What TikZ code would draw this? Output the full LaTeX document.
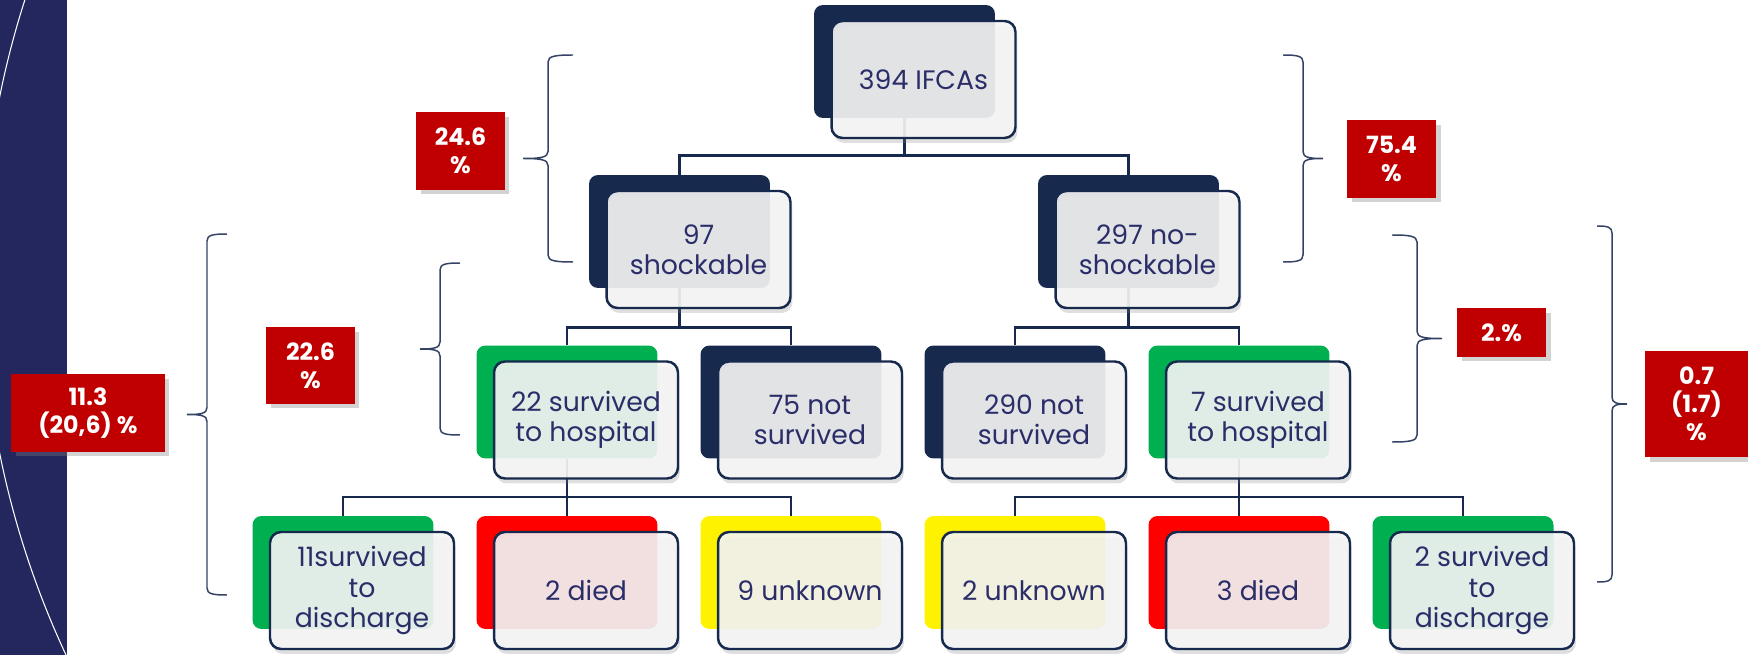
\documentclass[tikz,border=0pt]{standalone}
\usepackage{fontspec}
\setmainfont{Poppins}
\usetikzlibrary{positioning,shadows,calc}

\definecolor{navy}{RGB}{23,42,77}
\definecolor{inkblue}{RGB}{43,45,105}
\definecolor{panelblue}{RGB}{35,39,94}
\definecolor{okgreen}{RGB}{0,176,80}
\definecolor{pctred}{RGB}{192,0,0}
\definecolor{bracegray}{RGB}{52,66,100}

% curly brace: spine x, offset of the ends (tip goes the other way), top y, bottom y
\newcommand{\curly}[4]{%
  \draw[brace line] ({#1+(#2)},#3) .. controls ({#1+0.3*(#2)},#3) and (#1,{#3+1}) .. (#1,{#3+7})
    -- (#1,{(#3+#4)/2-7}) .. controls (#1,{(#3+#4)/2-1}) and ({#1-0.3*(#2)},{(#3+#4)/2}) .. ({#1-(#2)},{(#3+#4)/2})
    .. controls ({#1-0.3*(#2)},{(#3+#4)/2}) and (#1,{(#3+#4)/2+1}) .. (#1,{(#3+#4)/2+7})
    -- (#1,{#4-7}) .. controls (#1,{#4-1}) and ({#1+0.3*(#2)},#4) .. ({#1+(#2)},#4);}

\tikzset{
  back/.style={rounded corners=0.18cm, minimum width=3.62cm, minimum height=2.26cm, inner sep=0},
  card/.style={draw=navy, line width=1.4pt, rounded corners=0.22cm, fill=black!4, fill opacity=0.9,
    text opacity=1, text=inkblue, minimum width=3.68cm, minimum height=2.34cm, inner sep=0, align=center,
    font=\fontsize{15.2}{17.3}\selectfont, xshift=0.38cm, yshift=-0.36cm,
    drop shadow={shadow xshift=0.04cm, shadow yshift=-0.1cm, opacity=0.25}},
  pct/.style={fill=pctred, text=white, inner sep=0, align=center,
    font=\bfseries\fontsize{13.5}{16}\selectfont,
    drop shadow={shadow xshift=0.09cm, shadow yshift=-0.09cm, opacity=0.35}},
  link/.style={draw=navy, line width=1.4pt},
  brace line/.style={draw=bracegray, line width=0.85pt},
}

\begin{document}
\begin{tikzpicture}[x=0.02cm, y=-0.02cm]
  \useasboundingbox (0,0) rectangle (1748,655);

  % side panel
  \fill[panelblue] (0,0) rectangle (67,655);
  \begin{scope}
    \clip (0,0) rectangle (67,655);
    \draw[white, line width=0.6pt] (881,275) circle (899);
  \end{scope}

  % tree, coloured back cards
  \node[back, fill=navy] (ifca) at (904.5,61.5) {};
  \node[back, fill=navy] (shock) at (679.5,231.5) {};
  \node[back, fill=navy] (noshock) at (1128.5,231.5) {};
  \node[back, fill=okgreen] (surv22) at (567,402) {};
  \node[back, fill=navy] (dead75) at (791,402) {};
  \node[back, fill=navy] (dead290) at (1015,402) {};
  \node[back, fill=okgreen] (surv7) at (1239,402) {};
  \node[back, fill=okgreen] (dis11) at (343,572.5) {};
  \node[back, fill=red] (died2) at (567,572.5) {};
  \node[back, fill=yellow] (unk9) at (791,572.5) {};
  \node[back, fill=yellow] (unk2) at (1015,572.5) {};
  \node[back, fill=red] (died3) at (1239,572.5) {};
  \node[back, fill=okgreen] (dis2) at (1463,572.5) {};

  \draw[link] (ifca.south) -- ++(0,37) -| (shock.north);
  \draw[link] (ifca.south) -- ++(0,37) -| (noshock.north);
  \draw[link] (shock.south) -- ++(0,39) -| (surv22.north);
  \draw[link] (shock.south) -- ++(0,39) -| (dead75.north);
  \draw[link] (noshock.south) -- ++(0,39) -| (dead290.north);
  \draw[link] (noshock.south) -- ++(0,39) -| (surv7.north);
  \foreach \kid in {dis11,died2,unk9}
    \draw[link] (surv22.south) -- ++(0,38) -| (\kid.north);
  \foreach \kid in {unk2,died3,dis2}
    \draw[link] (surv7.south) -- ++(0,38) -| (\kid.north);

  % white cards with the counts
  \node[card] (ifca card) at (ifca) {394 IFCAs};
  \node[card] (shock card) at (shock) {97\\shockable};
  \node[card] (noshock card) at (noshock) {297 no-\\shockable};
  \node[card] (surv22 card) at (surv22) {22 survived\\to hospital};
  \node[card] (dead75 card) at (dead75) {75 not\\survived};
  \node[card] (dead290 card) at (dead290) {290 not\\survived};
  \node[card] (surv7 card) at (surv7) {7 survived\\to hospital};
  \node[card] (dis11 card) at (dis11) {11survived\\to\\discharge};
  \node[card] (died2 card) at (died2) {2 died};
  \node[card] (unk9 card) at (unk9) {9 unknown};
  \node[card] (unk2 card) at (unk2) {2 unknown};
  \node[card] (died3 card) at (died3) {3 died};
  \node[card] (dis2 card) at (dis2) {2 survived\\to\\discharge};

  % braces and percentages
  \curly{548}{25}{55}{262}
  \curly{1303}{-20}{55}{262}
  \curly{440}{20}{263}{435}
  \curly{207}{20}{234}{595}
  \curly{1417}{-25}{235}{442}
  \curly{1612}{-15}{226}{582}

  \node[pct, minimum width=1.78cm, minimum height=1.56cm] (p246) at (460.5,151) {24.6\\\%};
  \node[pct, minimum width=1.78cm, minimum height=1.56cm] (p754) at (1391.5,159) {75.4\\\%};
  \node[pct, minimum width=1.78cm, minimum height=1.54cm] (p226) at (310.5,365.5) {22.6\\\%};
  \node[pct, minimum width=3.08cm, minimum height=1.56cm] (p113) at (88,413) {11.3\\(20,6) \%};
  \node[pct, minimum width=1.78cm, minimum height=0.98cm] (p2) at (1501.5,332.5) {2.\%};
  \node[pct, minimum width=2.06cm, minimum height=2.14cm] (p07) at (1696.5,404) {0.7\\(1.7)\\\%};
\end{tikzpicture}
\end{document}
